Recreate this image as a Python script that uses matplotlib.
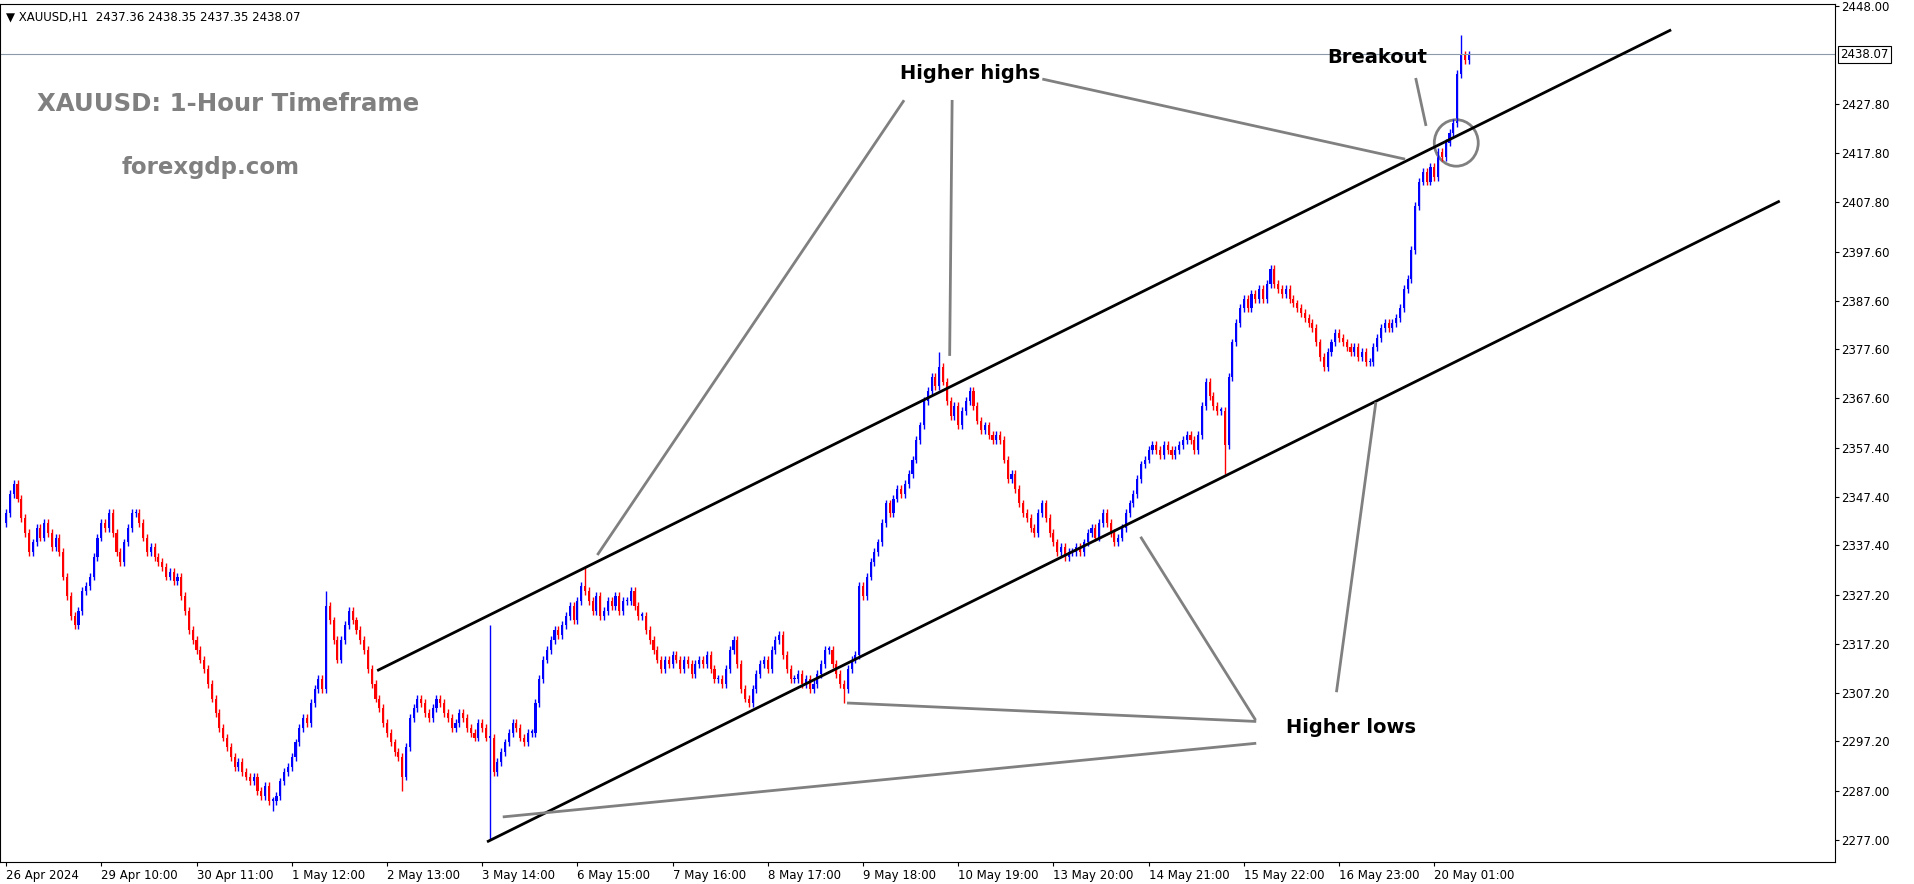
import matplotlib.pyplot as plt
from matplotlib.patches import Ellipse

# hourly closes, XAUUSD H1
closes = [
    2344, 2348, 2350, 2347, 2343, 2340, 2336, 2338, 2341, 2339, 2342, 2340, 2337, 2339,
    2336, 2331, 2327, 2323, 2321, 2324, 2328, 2329, 2331, 2335, 2339, 2342, 2341, 2344,
    2340, 2336, 2334, 2338, 2341, 2344, 2344, 2342, 2339, 2336, 2337, 2335, 2334,
    2333, 2331, 2332, 2330, 2331, 2327, 2324, 2320, 2318, 2316, 2314,
    2312, 2309, 2306, 2303, 2300, 2298, 2296, 2294, 2292, 2293, 2291, 2290, 2289,
    2290, 2287, 2286, 2288, 2285, 2285, 2286, 2289, 2291, 2292, 2294,
    2297, 2300, 2302, 2301, 2305, 2308, 2310, 2308, 2325, 2322, 2318,
    2314, 2318, 2321, 2324, 2322, 2320, 2318, 2316, 2312, 2309, 2306,
    2304, 2301, 2299, 2297, 2295, 2294, 2290, 2296, 2302, 2304, 2306, 2305, 2303,
    2302, 2304, 2306, 2305, 2303, 2302, 2300, 2301, 2303, 2302, 2300, 2299, 2298, 2301, 2300, 2298,
    2298, 2291, 2293, 2295, 2297, 2299, 2301, 2300, 2298, 2297, 2299, 2299, 2305, 2310,
    2314, 2316, 2318, 2320, 2319, 2321, 2323, 2325, 2322, 2326, 2329, 2328,
    2326, 2324, 2327, 2323, 2324, 2326, 2325, 2327, 2324, 2326, 2326, 2328, 2325, 2323,
    2323, 2320, 2318, 2316, 2314, 2312, 2314, 2313, 2315, 2314, 2312, 2314, 2313, 2311,
    2313, 2314, 2313, 2315, 2312, 2310, 2310, 2309, 2312, 2316, 2318, 2313, 2308, 2306,
    2305, 2308, 2311, 2313, 2314, 2312, 2316, 2318, 2319, 2315, 2312, 2310, 2310, 2311,
    2309, 2310, 2308, 2309, 2311, 2313, 2316, 2316, 2313, 2311, 2309, 2308, 2312, 2314, 2315,
    2329, 2327, 2331, 2334, 2336, 2338, 2342, 2346, 2344, 2347, 2349, 2348, 2350, 2352, 2355,
    2359, 2362, 2367, 2369, 2372, 2370, 2374, 2371, 2367, 2364, 2366, 2362, 2365, 2367,
    2369, 2366, 2363, 2361, 2362, 2360, 2359, 2360, 2359, 2355, 2351, 2352, 2349, 2346,
    2344, 2343, 2341, 2340, 2344, 2346, 2343, 2340, 2338, 2336, 2337, 2335, 2336, 2336,
    2337, 2336, 2338, 2340, 2341, 2339, 2342, 2344, 2342, 2340, 2338, 2339, 2341, 2344,
    2346, 2348, 2351, 2354, 2355, 2357, 2358, 2357, 2356, 2358, 2357, 2356, 2357, 2358,
    2359, 2360, 2359, 2357, 2360, 2366, 2371, 2368, 2366, 2365, 2365, 2358, 2372,
    2379, 2383, 2386, 2388, 2386, 2389, 2388, 2390, 2388, 2391, 2394, 2391, 2390, 2389,
    2390, 2388, 2387, 2386, 2385, 2384, 2383, 2382, 2379, 2376, 2374, 2377, 2379, 2381,
    2380, 2379, 2378, 2377, 2378, 2376, 2377, 2375, 2375, 2378, 2380, 2382, 2383, 2382,
    2383, 2384, 2386, 2390, 2392, 2398, 2407, 2412, 2414, 2412, 2415, 2413, 2418, 2417,
    2420, 2422, 2424, 2434, 2438, 2437, 2438.07,
]
first_open = 2342
spike_highs = {84: 2328, 127: 2321, 152: 2333, 245: 2377, 382: 2442}
spike_lows = {70: 2283, 104: 2287, 127: 2277, 220: 2305, 320: 2352}

date_labels = ["26 Apr 2024", "29 Apr 10:00", "30 Apr 11:00", "1 May 12:00", "2 May 13:00",
               "3 May 14:00", "6 May 15:00", "7 May 16:00", "8 May 17:00", "9 May 18:00",
               "10 May 19:00", "13 May 20:00", "14 May 21:00", "15 May 22:00",
               "16 May 23:00", "20 May 01:00"]
price_ticks = [2448.00, 2427.80, 2417.80, 2407.80, 2397.60, 2387.60, 2377.60, 2367.60,
               2357.40, 2347.40, 2337.40, 2327.20, 2317.20, 2307.20, 2297.20, 2287.00, 2277.00]
last_price = 2438.07


def px(x, y):
    # screen position of the reference -> (bar, price)
    return (x - 5) / 3.12, 2448 - (y - 5) / 3.988


fig = plt.figure(figsize=(19.14, 8.84), dpi=100)
ax = fig.add_axes([0.0, 0.025, 0.9585, 0.971])

opens = [first_open] + closes[:-1]
for i, (o, c) in enumerate(zip(opens, closes)):
    col = "#0000ff" if c >= o else "#ff0000"
    hi = spike_highs.get(i, max(o, c) + 0.8)
    lo = spike_lows.get(i, min(o, c) - 0.8)
    ax.vlines(i, lo, hi, color=col, lw=1)
    h = abs(c - o) if abs(c - o) > 0.3 else 0.3
    ax.bar(i, h, bottom=min(o, c), width=0.55, color=col, lw=0)

ax.axhline(last_price, color="#8a9aa8", lw=0.8)

# channel lines
for a, b in [((310, 548), (1368, 25)), ((400, 688), (1457, 165))]:
    p, q = px(*a), px(*b)
    ax.plot([p[0], q[0]], [p[1], q[1]], color="black", lw=2)

# annotation lines
grey = "#808080"
for a, b in [((740, 83), (490, 453)), ((780, 83), (778, 290)), ((855, 65), (1150, 130)),
             ((1160, 65), (1168, 102)), ((1028, 588), (935, 440)), ((1095, 565), (1127, 330)),
             ((1028, 590), (695, 575)), ((1028, 608), (413, 668))]:
    p, q = px(*a), px(*b)
    ax.plot([p[0], q[0]], [p[1], q[1]], color=grey, lw=2)

cx, cy = px(1193, 117)
ax.add_patch(Ellipse((cx, cy), 36 / 3.12, 38 / 3.988, fill=False, ec=grey, lw=2))

kw = dict(fontsize=14, fontweight="bold", color="black", ha="center", va="center")
ax.text(*px(795, 60), "Higher highs", **kw)
ax.text(*px(1128, 47), "Breakout", **kw)
ax.text(*px(1107, 595), "Higher lows", **kw)
ax.text(*px(30, 85), "XAUUSD: 1-Hour Timeframe", fontsize=17.6, fontweight="bold",
        color="#808080", ha="left", va="center")
ax.text(*px(100, 137), "forexgdp.com", fontsize=16.5, fontweight="bold",
        color="#808080", ha="left", va="center")
ax.text(0.003, 0.992, "\u25bc XAUUSD,H1  2437.36 2438.35 2437.35 2438.07",
        transform=ax.transAxes, fontsize=8.5, va="top", ha="left")

ax.set_xlim(-1.6, 480.1)
ax.set_ylim(2272.5, 2448.5)
ax.yaxis.tick_right()
ax.set_yticks(price_ticks)
ax.set_yticklabels([f"{v:.2f}" for v in price_ticks], fontsize=8.5)
ax.set_xticks([25 * i for i in range(len(date_labels))])
ax.set_xticklabels(date_labels, fontsize=8.5, ha="left")
ax.tick_params(length=3, pad=2)
ax.text(1.003, (last_price - 2272.5) / 176, f"{last_price:.2f}", transform=ax.transAxes,
        fontsize=8.5, color="black", va="center", ha="left",
        bbox=dict(fc="white", ec="black", lw=0.8, pad=1.5))
for s in ax.spines.values():
    s.set_color("black")
    s.set_linewidth(0.8)

fig.savefig("out.png")
